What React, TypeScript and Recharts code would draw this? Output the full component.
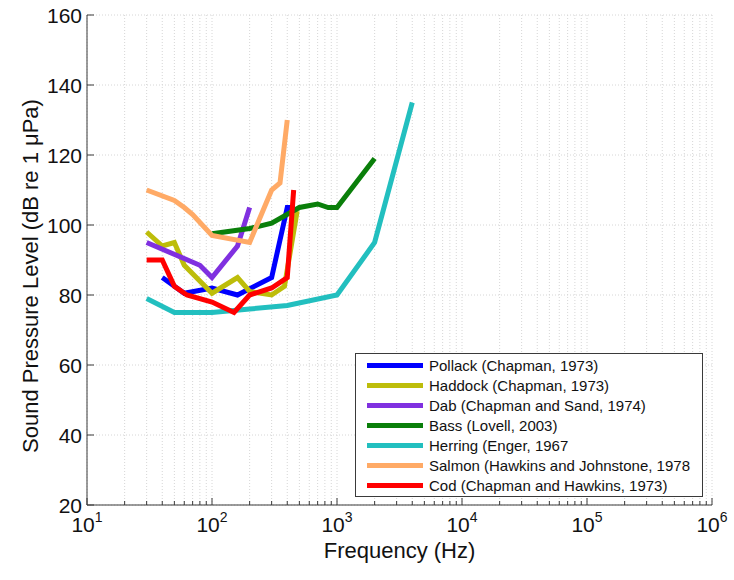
import React from 'react';
import { LineChart, Line, XAxis, YAxis, CartesianGrid, Legend, Label } from 'recharts';

// ---- data ----
const pollackFreq = [40, 60, 100, 160, 300, 400, 460];
const pollackLevel = [85, 80.5, 82, 80, 85, 105, 105];

const haddockFreq = [30, 40, 50, 60, 100, 160, 200, 300, 380, 480];
const haddockLevel = [98, 94, 95, 88.5, 80.5, 85, 81, 80, 82.5, 104];

const dabFreq = [30, 80, 100, 160, 200];
const dabLevel = [95, 88.5, 85, 94, 105];

const bassFreq = [100, 200, 300, 500, 700, 850, 1000, 2000];
const bassLevel = [97.5, 99, 100.5, 105, 106, 105, 105, 119];

const herringFreq = [30, 50, 100, 200, 400, 1000, 2000, 4000];
const herringLevel = [79, 75, 75, 76, 77, 80, 95, 135];

const salmonFreq = [30, 50, 60, 70, 100, 200, 300, 350, 400];
const salmonLevel = [110, 107, 105, 103, 97, 95, 110, 112, 130];

const codFreq = [30, 40, 50, 63, 100, 150, 200, 300, 400, 450];
const codLevel = [90, 90, 82.5, 80, 78, 75, 80, 82, 85, 110];

const seriesNames = [
  'Pollack (Chapman, 1973)',
  'Haddock (Chapman, 1973)',
  'Dab (Chapman and Sand, 1974)',
  'Bass (Lovell, 2003)',
  'Herring (Enger, 1967',
  'Salmon (Hawkins and Johnstone, 1978',
  'Cod (Chapman and Hawkins, 1973)',
];
const seriesColors = ['#0000FF', '#BDBD0A', '#8030E0', '#0A7F0A', '#22BFBF', '#FFAA66', '#FF0000'];

const yTicks = [20, 40, 60, 80, 100, 120, 140, 160];
const decades = [10, 100, 1000, 10000, 100000, 1000000];
const minorMult = [1, 2, 3, 4, 5, 6, 7, 8, 9];

// ---- derived tables ----
const zip = (f: number[], l: number[]) => f.map((v, i) => ({ f: v, db: l[i] }));
const seriesData = [
  zip(pollackFreq, pollackLevel),
  zip(haddockFreq, haddockLevel),
  zip(dabFreq, dabLevel),
  zip(bassFreq, bassLevel),
  zip(herringFreq, herringLevel),
  zip(salmonFreq, salmonLevel),
  zip(codFreq, codLevel),
];

const xTicks: number[] = [];
decades.forEach((d, i) => {
  if (i === decades.length - 1) {
    xTicks.push(d);
  } else {
    minorMult.forEach((m) => xTicks.push(d * m));
  }
});

const AXIS = '#3a3a3a';
const FONT = '"Liberation Sans", Arial, Helvetica, sans-serif';

const isDecade = (v: number) => {
  const e = Math.round(Math.log10(v));
  return Math.abs(Math.pow(10, e) - v) < 1e-6 * v;
};

const XTickBottom = (props: any) => {
  const { x, y, payload } = props;
  const v = payload.value;
  const major = isDecade(v);
  const exp = Math.round(Math.log10(v));
  return (
    <g>
      <line x1={x} x2={x} y1={y} y2={y - (major ? 7 : 4)} stroke={AXIS} strokeWidth={1} />
      {major && (
        <text x={x} y={y + 27} textAnchor="middle" fontSize={21} fontFamily={FONT} fill="#111">
          10
          <tspan dy={-10} fontSize={14}>{exp}</tspan>
        </text>
      )}
    </g>
  );
};

const XTickTop = (props: any) => {
  const { x, y, payload } = props;
  const major = isDecade(payload.value);
  return <line x1={x} x2={x} y1={y} y2={y + (major ? 7 : 4)} stroke={AXIS} strokeWidth={1} />;
};

const YTickLeft = (props: any) => {
  const { x, y, payload } = props;
  return (
    <g>
      <line x1={x} x2={x + 7} y1={y} y2={y} stroke={AXIS} strokeWidth={1} />
      <text x={x - 5} y={y} dy="0.36em" textAnchor="end" fontSize={21} fontFamily={FONT} fill="#111">
        {payload.value}
      </text>
    </g>
  );
};

const YTickRight = (props: any) => {
  const { x, y } = props;
  return <line x1={x} x2={x - 7} y1={y} y2={y} stroke={AXIS} strokeWidth={1} />;
};

const LegendBox = () => {
  return (
    <div
      style={{
        width: 346,
        height: 142,
        border: `1px solid ${AXIS}`,
        background: '#fff',
        position: 'relative',
        fontFamily: FONT,
        fontSize: 15,
        color: '#111',
      }}
    >
      {seriesNames.map((name, i) => (
        <div
          key={name}
          style={{
            position: 'absolute',
            left: 11,
            top: 11 + i * 20 - 9,
            height: 18,
            display: 'flex',
            alignItems: 'center',
            whiteSpace: 'nowrap',
          }}
        >
          <div style={{ width: 56, height: 5, background: seriesColors[i], marginRight: 6 }} />
          <span>{name}</span>
        </div>
      ))}
    </div>
  );
};

export default function App() {
  return (
    <div style={{ position: 'absolute', left: 0, top: 0, background: '#fff' }}>
      <LineChart width={734} height={580} margin={{ top: 15, right: 22, left: 27, bottom: 15 }}>
        <CartesianGrid stroke="#d6d6d6" strokeDasharray="1 2" strokeWidth={1} />
        <XAxis
          dataKey="f"
          type="number"
          scale="log"
          domain={[10, 1000000]}
          allowDataOverflow
          ticks={xTicks}
          interval={0}
          height={60}
          tickSize={0}
          tickMargin={0}
          tickLine={false}
          axisLine={{ stroke: AXIS }}
          tick={<XTickBottom />}
        >
          <Label
            content={(p: any) => {
              const vb = p.viewBox;
              return (
                <text
                  x={vb.x + vb.width / 2}
                  y={vb.y + 53}
                  textAnchor="middle"
                  fontSize={22}
                  fontFamily={FONT}
                  fill="#111"
                >
                  Frequency (Hz)
                </text>
              );
            }}
          />
        </XAxis>
        <XAxis
          xAxisId="top"
          orientation="top"
          dataKey="f"
          type="number"
          scale="log"
          domain={[10, 1000000]}
          allowDataOverflow
          ticks={xTicks}
          interval={0}
          height={0}
          tickSize={0}
          tickMargin={0}
          tickLine={false}
          axisLine={{ stroke: AXIS }}
          tick={<XTickTop />}
        />
        <YAxis
          type="number"
          domain={[20, 160]}
          ticks={yTicks}
          interval={0}
          width={60}
          tickSize={0}
          tickMargin={0}
          tickLine={false}
          axisLine={{ stroke: AXIS }}
          tick={<YTickLeft />}
        >
          <Label
            content={(p: any) => {
              const vb = p.viewBox;
              const cx = vb.x + 3;
              const cy = vb.y + vb.height / 2 + 16;
              return (
                <text
                  x={cx}
                  y={cy}
                  transform={`rotate(-90 ${cx} ${cy})`}
                  textAnchor="middle"
                  dominantBaseline="central"
                  fontSize={22}
                  fontFamily={FONT}
                  fill="#111"
                >
                  Sound Pressure Level (dB re 1 μPa)
                </text>
              );
            }}
          />
        </YAxis>
        <YAxis
          yAxisId="right"
          orientation="right"
          type="number"
          domain={[20, 160]}
          ticks={yTicks}
          interval={0}
          width={0}
          tickSize={0}
          tickMargin={0}
          tickLine={false}
          axisLine={{ stroke: AXIS }}
          tick={<YTickRight />}
        />
        {seriesData.map((d, i) => (
          <Line
            key={seriesNames[i]}
            data={d}
            dataKey="db"
            name={seriesNames[i]}
            stroke={seriesColors[i]}
            strokeWidth={5}
            dot={false}
            activeDot={false}
            strokeLinejoin="miter"
            isAnimationActive={false}
            legendType="line"
          />
        ))}
        <Legend
          layout="vertical"
          align="center"
          verticalAlign="middle"
          content={<LegendBox />}
          wrapperStyle={{ position: 'absolute', left: 355, top: 353, width: 348, height: 144 }}
        />
      </LineChart>
    </div>
  );
}
